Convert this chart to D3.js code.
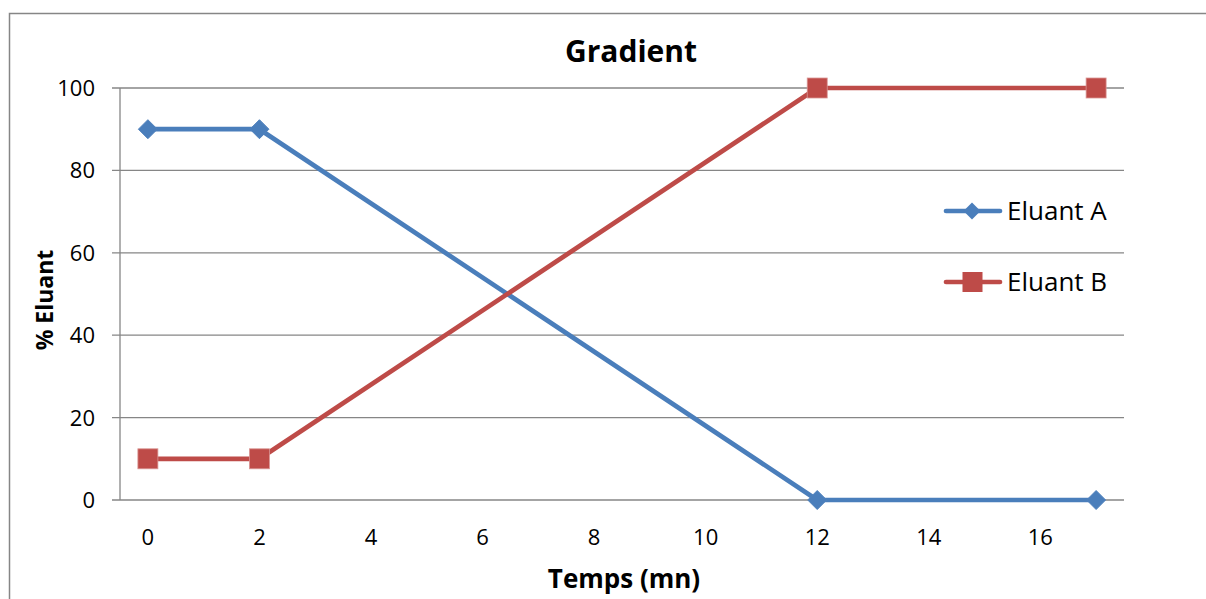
<!DOCTYPE html>
<html><head><meta charset="utf-8">
<script src="https://cdn.jsdelivr.net/npm/d3@7"></script>
<style>body{margin:0;background:#fff}svg{display:block}text{font-family:"Open Sans",sans-serif;fill:#000}</style>
</head><body><svg id="c" width="1206" height="599"></svg>
<script>
const title = "Gradient";
const xTitle = "Temps (mn)";
const yTitle = "% Eluant";
const times = [0, 2, 12, 17];
const eluantA = [90, 90, 0, 0];
const eluantB = [10, 10, 100, 100];
const seriesNames = ["Eluant A", "Eluant B"];
const xTicks = [0, 2, 4, 6, 8, 10, 12, 14, 16];
const yTicks = [0, 20, 40, 60, 80, 100];

const svg = d3.select("#c");
const grid = "#868686";
const colA = "#4A7EBB", colB = "#BE4B48";

// outer frame
svg.append("path").attr("d","M9.5,1206 V13.5 H1206").attr("fill","none").attr("stroke",grid).attr("stroke-width",1.5);

const x = d3.scaleLinear().domain([-0.5, 17.5]).range([120, 1124]);
const y = d3.scaleLinear().domain([0, 100]).range([500, 88]);

// gridlines
svg.append("g").selectAll("line").data(yTicks).join("line")
  .attr("x1", 112).attr("x2", x.range()[1])
  .attr("y1", d => y(d)).attr("y2", d => y(d))
  .attr("stroke", grid).attr("stroke-width", 1.3);
// y axis line
svg.append("line").attr("x1",120).attr("x2",120).attr("y1",y(100)).attr("y2",y(0)).attr("stroke",grid).attr("stroke-width",1.3);

// tick labels
svg.append("g").selectAll("text").data(yTicks).join("text")
  .attr("x", 95).attr("y", d => y(d)).attr("dy","0.36em")
  .attr("text-anchor","end").style("font-size","22px").text(d => d);
svg.append("g").selectAll("text").data(xTicks).join("text")
  .attr("x", d => x(d)).attr("y", 537).attr("dy","0.36em")
  .attr("text-anchor","middle").style("font-size","22px").text(d => d);

// titles
svg.append("text").attr("x",631).attr("y",62).attr("text-anchor","middle")
  .style("font-size","30px").style("font-weight","bold").text(title);
svg.append("text").attr("x",624).attr("y",588).attr("text-anchor","middle")
  .style("font-size","26px").style("font-weight","bold").text(xTitle);
svg.append("text").attr("transform","translate(53,300) rotate(-90)").attr("text-anchor","middle")
  .style("font-size","23px").style("font-weight","bold").text(yTitle);

const line = d3.line().x(d => x(d[0])).y(d => y(d[1]));
const dataA = times.map((t,i)=>[t, eluantA[i]]);
const dataB = times.map((t,i)=>[t, eluantB[i]]);

function drawSeries(data, col) {
  svg.append("path").datum(data).attr("d", line).attr("fill","none")
    .attr("stroke", col).attr("stroke-width", 4.7).attr("stroke-linejoin","round");
}
const diamond = (cx, cy, r) => `M${cx},${cy-r}L${cx+r},${cy}L${cx},${cy+r}L${cx-r},${cy}Z`;
drawSeries(dataA, colA);
drawSeries(dataB, colB);
svg.append("g").selectAll("path").data(dataA).join("path")
  .attr("d", d => diamond(x(d[0]), y(d[1]), 9.5)).attr("fill", colA).attr("stroke","#4F81BD").attr("stroke-width",1);
svg.append("g").selectAll("rect").data(dataB).join("rect")
  .attr("x", d => x(d[0]) - 10).attr("y", d => y(d[1]) - 10).attr("width",20).attr("height",20)
  .attr("fill", colB).attr("stroke","#D99694").attr("stroke-width",0.8);

// legend
const leg = svg.append("g");
const legY = [211, 282];
[colA, colB].forEach((c,i) => {
  leg.append("line").attr("x1",946).attr("x2",1000).attr("y1",legY[i]).attr("y2",legY[i])
    .attr("stroke",c).attr("stroke-width",4.7).attr("stroke-linecap","round");
  if (i===0) leg.append("path").attr("d", diamond(972, legY[i], 8.5)).attr("fill", c);
  else leg.append("rect").attr("x",962.5).attr("y",legY[i]-10).attr("width",20).attr("height",20).attr("fill",c);
  leg.append("text").attr("x",1007).attr("y",legY[i]).attr("dy","0.36em")
    .style("font-size","26px").text(seriesNames[i]);
});
</script></body></html>
